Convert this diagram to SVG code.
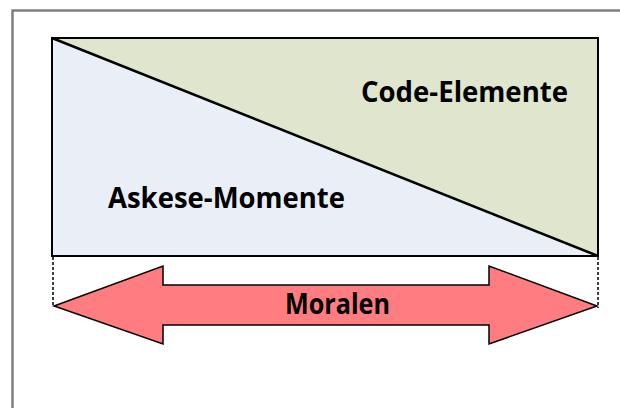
<svg xmlns="http://www.w3.org/2000/svg" width="620" height="408" viewBox="0 0 620 408">
<style>
.lbl{font-family:"Open Sans","Liberation Sans",sans-serif;font-weight:bold;fill:#000}
.dash{stroke:#000;stroke-width:1.5;stroke-dasharray:3,2;fill:none}
</style>
<rect width="620" height="408" fill="#fff"/>
<path d="M12.5,408 V10.5 H620" fill="none" stroke="#7f7f7f" stroke-width="2.5"/>
<g id="code">
<polygon points="52,38 598,38 598,256" fill="#e0e6cd"/>
<text class="lbl" x="361" y="102" font-size="28" textLength="207" lengthAdjust="spacingAndGlyphs">Code-Elemente</text>
</g>
<g id="askese">
<polygon points="52,38 598,256 52,256" fill="#eaeef7"/>
<text class="lbl" x="108" y="208" font-size="28" textLength="237" lengthAdjust="spacingAndGlyphs">Askese-Momente</text>
</g>
<g id="frame">
<rect x="52" y="38" width="546" height="218" fill="none" stroke="#000" stroke-width="2"/>
</g>
<g id="connectors">
<line x1="52" y1="38" x2="598" y2="256" stroke="#000" stroke-width="2.5"/>
<line class="dash" x1="53" y1="257" x2="53" y2="307"/>
<line class="dash" x1="598" y1="257" x2="598" y2="308"/>
</g>
<g id="moralen">
<polygon points="54,306 163,266 163,285 489,285 489,266 597,306 489,344 489,325 163,325 163,344" fill="#ff7c80" stroke="#000" stroke-width="1.5" stroke-linejoin="miter"/>
<text class="lbl" x="285" y="314" font-size="28" textLength="105" lengthAdjust="spacingAndGlyphs">Moralen</text>
</g>
</svg>
